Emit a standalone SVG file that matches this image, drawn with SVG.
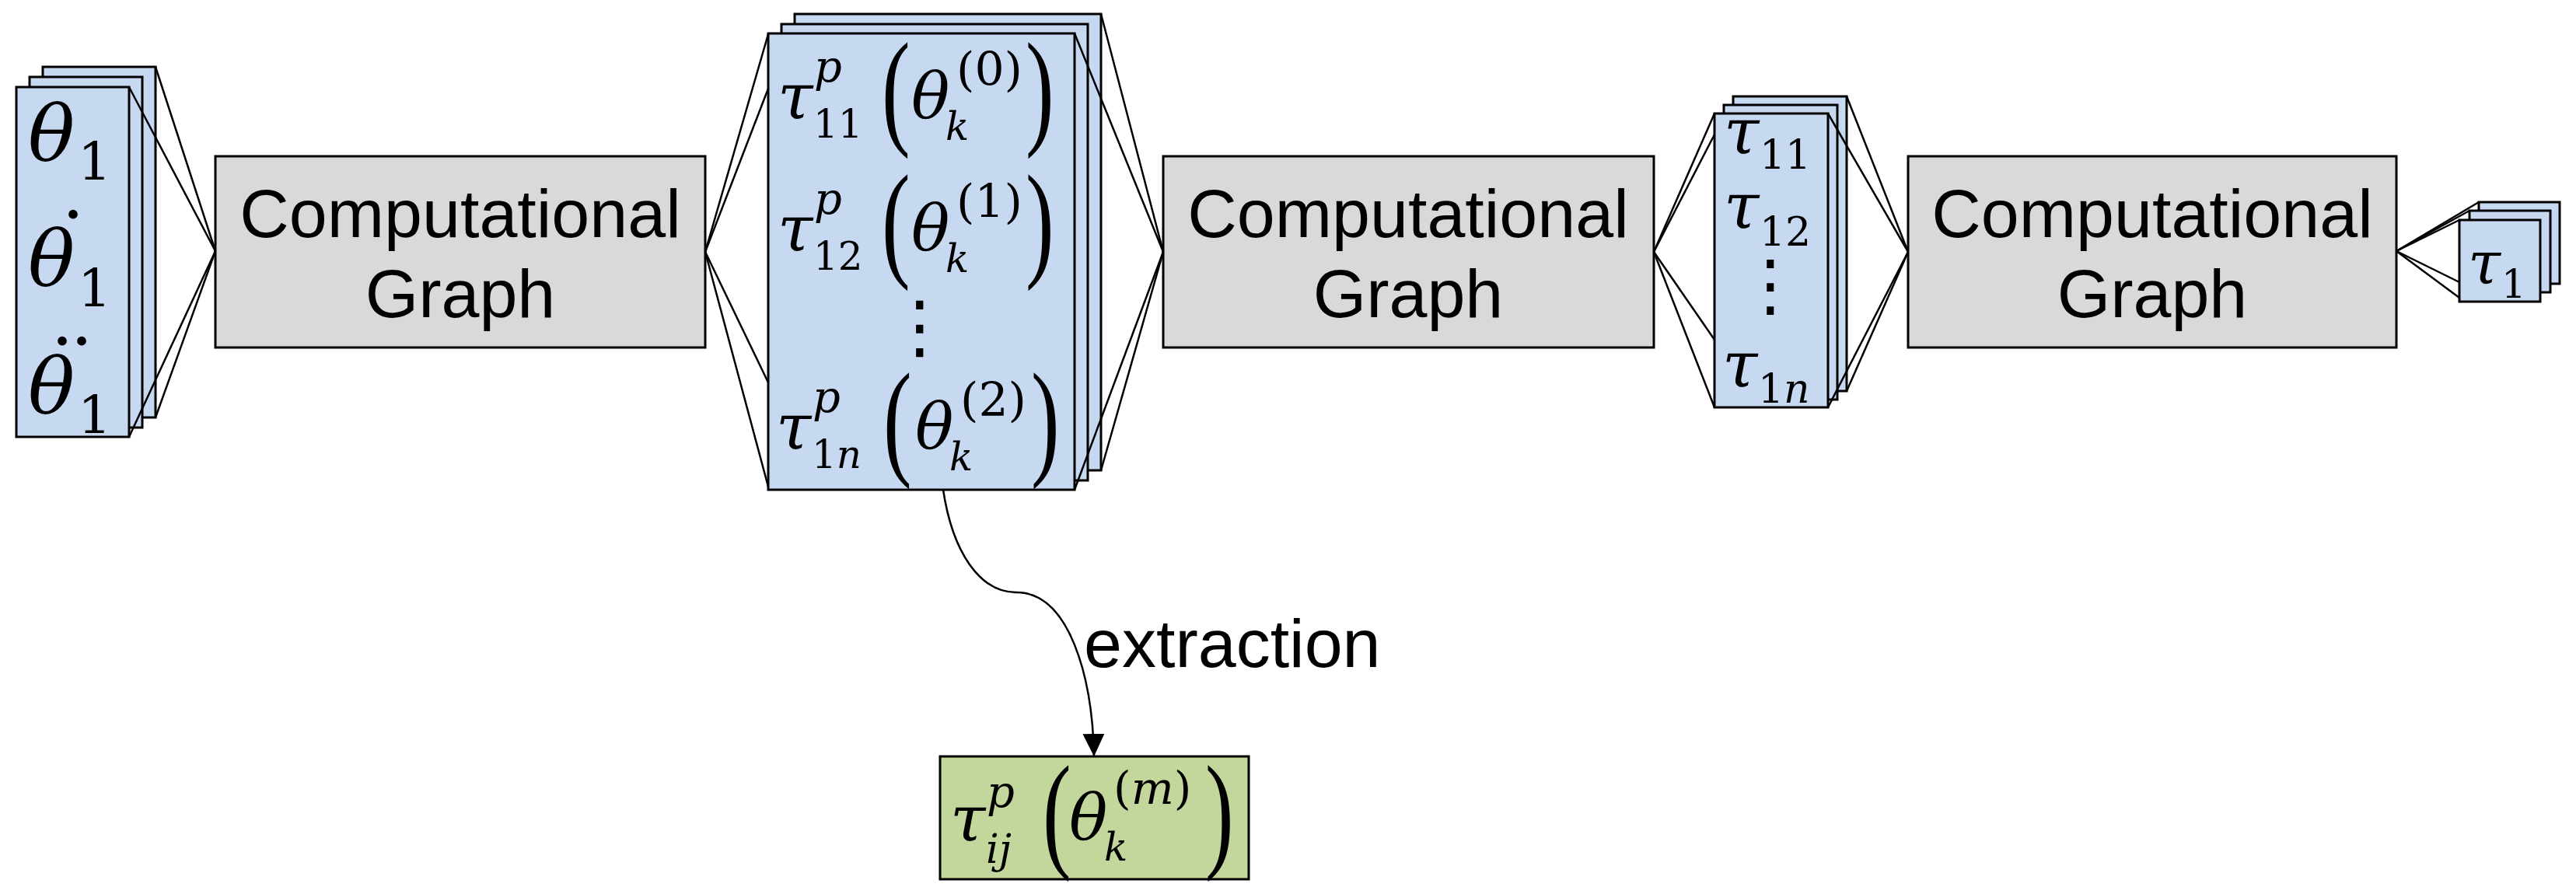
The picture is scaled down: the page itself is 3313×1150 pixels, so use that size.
<svg xmlns="http://www.w3.org/2000/svg" width="3313" height="1150" viewBox="0 0 3313 1150">
<defs>
<style>
.blue{fill:#c6d9f1;stroke:#000;stroke-width:3}
.gray{fill:#d9d9d9;stroke:#000;stroke-width:3}
.green{fill:#c3d69b;stroke:#000;stroke-width:3}
.ln{stroke:#000;stroke-width:2.5;fill:none}
.m{font-family:"DejaVu Serif","Liberation Serif",serif;fill:#000}
.i{font-style:italic}
.n{font-style:normal}
.dot{font-family:"Liberation Serif",serif;font-weight:bold;font-size:72px;font-style:normal;fill:#000}
.vd{font-family:"DejaVu Sans",sans-serif;text-anchor:middle;fill:#000}
.big{font-family:"Liberation Serif",serif;font-size:110px;fill:#000}
.lbl{font-family:"Liberation Sans",Arial,sans-serif;font-size:88px;text-anchor:middle;fill:#000}
</style>
<marker id="arr" viewBox="0 0 29 28" refX="29" refY="14" markerWidth="29" markerHeight="28" markerUnits="userSpaceOnUse" orient="auto">
<polygon points="0,0 29,14 0,28" fill="#000"/>
</marker>
</defs>
<rect width="3313" height="1150" fill="#fff"/>

<g id="input-stack">
<rect class="blue" x="55" y="86" width="145" height="451"/>
<rect class="blue" x="38" y="99" width="145" height="451"/>
<rect class="blue" x="21" y="112" width="145" height="450"/>
<text class="m"><tspan class="i" x="36" y="207" font-size="100">θ</tspan><tspan class="n" x="100" y="231" font-size="68">1</tspan><tspan class="i" x="36" y="368" font-size="100">θ</tspan><tspan class="n" x="100" y="394" font-size="68">1</tspan><tspan class="i" x="36" y="532" font-size="100">θ</tspan><tspan class="n" x="100" y="557" font-size="68">1</tspan></text>
<text class="dot"><tspan x="85" y="281">.</tspan><tspan x="71" y="444">.</tspan><tspan x="96" y="444">.</tspan></text>
</g>

<g id="graph1">
<rect class="gray" x="277" y="201" width="630" height="246"/>
<text class="lbl" x="592" y="305">Computational</text>
<text class="lbl" x="592" y="408">Graph</text>
</g>

<g id="partial-stack">
<rect class="blue" x="1022" y="18" width="394" height="587"/>
<rect class="blue" x="1005" y="31" width="394" height="587"/>
<rect class="blue" x="988" y="43" width="394" height="587"/>
<text class="m"><tspan class="i" x="1000" y="153" font-size="82">τ</tspan><tspan class="i" x="1047" y="105" font-size="56">p</tspan><tspan class="n" x="1046" y="177" font-size="50">11</tspan><tspan class="i" x="1000" y="323" font-size="82">τ</tspan><tspan class="i" x="1047" y="275" font-size="56">p</tspan><tspan class="n" x="1046" y="347" font-size="50">12</tspan><tspan class="i" x="998" y="578" font-size="82">τ</tspan><tspan class="i" x="1045" y="530" font-size="56">p</tspan><tspan class="n" x="1044" y="602" font-size="50">1<tspan class="i">n</tspan></tspan></text>
<text class="big" transform="scale(1,1.5)"><tspan x="1134" y="112.7">(</tspan><tspan x="1134" y="226">(</tspan><tspan x="1136" y="396">(</tspan></text>
<text class="m"><tspan class="i" x="1172" y="152" font-size="82">θ</tspan><tspan class="n" x="1230" y="110" font-size="60">(0)</tspan><tspan class="i" x="1216" y="180" font-size="50">k</tspan><tspan class="i" x="1172" y="322" font-size="82">θ</tspan><tspan class="n" x="1230" y="280" font-size="60">(1)</tspan><tspan class="i" x="1216" y="350" font-size="50">k</tspan><tspan class="i" x="1177" y="577" font-size="82">θ</tspan><tspan class="n" x="1235" y="535" font-size="60">(2)</tspan><tspan class="i" x="1221" y="605" font-size="50">k</tspan></text>
<text class="vd" x="1183" y="451" font-size="90">⋮</text>
<text class="big" transform="scale(1,1.5)"><tspan x="1319" y="112.7">)</tspan><tspan x="1319" y="226">)</tspan><tspan x="1326" y="396">)</tspan></text>
</g>

<g id="graph2">
<rect class="gray" x="1496" y="201" width="631" height="246"/>
<text class="lbl" x="1811" y="305">Computational</text>
<text class="lbl" x="1811" y="408">Graph</text>
</g>

<g id="torque-stack">
<rect class="blue" x="2229" y="124" width="146" height="379"/>
<rect class="blue" x="2217" y="135" width="146" height="379"/>
<rect class="blue" x="2205" y="146" width="146" height="378"/>
<text class="m"><tspan class="i" x="2217" y="198" font-size="82">τ</tspan><tspan class="n" x="2263" y="217" font-size="52">11</tspan><tspan class="i" x="2217" y="294" font-size="82">τ</tspan><tspan class="n" x="2263" y="316" font-size="52">12</tspan><tspan class="i" x="2215" y="498" font-size="82">τ</tspan><tspan class="n" x="2261" y="518" font-size="52">1<tspan class="i">n</tspan></tspan></text>
<text class="vd" x="2277" y="397" font-size="88">⋮</text>
</g>

<g id="graph3">
<rect class="gray" x="2454" y="201" width="628" height="246"/>
<text class="lbl" x="2768" y="305">Computational</text>
<text class="lbl" x="2768" y="408">Graph</text>
</g>

<g id="output-stack">
<rect class="blue" x="3188" y="260" width="104" height="105"/>
<rect class="blue" x="3176" y="271" width="104" height="105"/>
<rect class="blue" x="3163" y="283" width="104" height="105"/>
<text class="m"><tspan class="i" x="3174" y="365" font-size="76">τ</tspan><tspan class="n" x="3217" y="383" font-size="50">1</tspan></text>
</g>

<g id="extracted">
<rect class="green" x="1209" y="973" width="397" height="158"/>
<text class="m"><tspan class="i" x="1222" y="1082" font-size="82">τ</tspan><tspan class="i" x="1269" y="1038" font-size="56">p</tspan><tspan class="i" x="1268" y="1110" font-size="52">ij</tspan></text>
<text class="big" transform="scale(1,1.5)"><tspan x="1341" y="732.7">(</tspan></text>
<text class="m"><tspan class="i" x="1375" y="1080" font-size="82">θ</tspan><tspan class="n" x="1432" y="1034" font-size="58">(<tspan class="i">m</tspan>)</tspan><tspan class="i" x="1420" y="1107" font-size="50">k</tspan></text>
<text class="big" transform="scale(1,1.5)"><tspan x="1550" y="732.7">)</tspan></text>
</g>

<g id="connectors">
<line class="ln" x1="200" y1="86" x2="277" y2="323"/>
<line class="ln" x1="166" y1="112" x2="277" y2="323"/>
<line class="ln" x1="166" y1="562" x2="277" y2="323"/>
<line class="ln" x1="200" y1="537" x2="277" y2="323"/>

<line class="ln" x1="907" y1="324" x2="988" y2="44"/>
<line class="ln" x1="907" y1="324" x2="988" y2="114"/>
<line class="ln" x1="907" y1="324" x2="988" y2="492"/>
<line class="ln" x1="907" y1="324" x2="988" y2="626"/>

<line class="ln" x1="1416" y1="18" x2="1496" y2="324"/>
<line class="ln" x1="1382" y1="43" x2="1496" y2="324"/>
<line class="ln" x1="1382" y1="630" x2="1496" y2="324"/>
<line class="ln" x1="1416" y1="605" x2="1496" y2="324"/>

<line class="ln" x1="2127" y1="324" x2="2205" y2="146"/>
<line class="ln" x1="2127" y1="324" x2="2205" y2="173"/>
<line class="ln" x1="2127" y1="324" x2="2205" y2="437"/>
<line class="ln" x1="2127" y1="324" x2="2205" y2="524"/>

<line class="ln" x1="2375" y1="124" x2="2454" y2="324"/>
<line class="ln" x1="2351" y1="146" x2="2454" y2="324"/>
<line class="ln" x1="2351" y1="524" x2="2454" y2="324"/>
<line class="ln" x1="2375" y1="503" x2="2454" y2="324"/>

<line class="ln" x1="3082" y1="323" x2="3188" y2="260"/>
<line class="ln" x1="3082" y1="323" x2="3176" y2="271"/>
<line class="ln" x1="3082" y1="323" x2="3163" y2="283"/>
<line class="ln" x1="3082" y1="323" x2="3163" y2="363"/>
<line class="ln" x1="3082" y1="323" x2="3163" y2="383"/>

<path class="ln" d="M1213,630 C1225,710 1260,762 1307,762 C1375,762 1405,870 1407,973" marker-end="url(#arr)"/>
<text x="1394" y="858" font-family="Liberation Sans, Arial, sans-serif" font-size="88">extraction</text>
</g>
</svg>
